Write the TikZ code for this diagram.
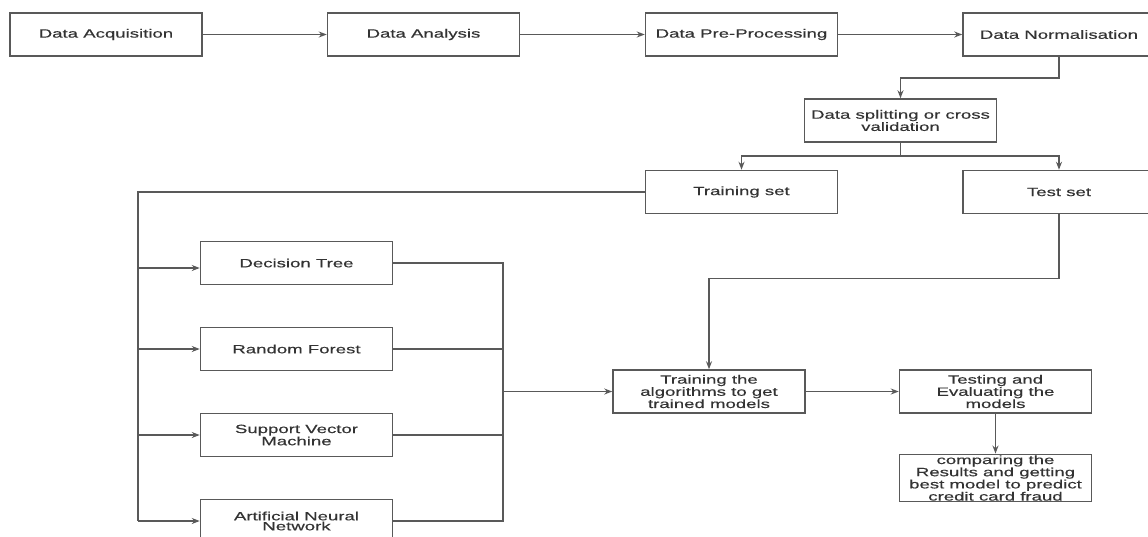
\documentclass[tikz,border=0pt]{standalone}
\usepackage{fontspec}
\setmainfont[FakeStretch=1.55, FakeBold=0.4]{Liberation Sans}
\usetikzlibrary{arrows.meta}

\begin{document}
\begin{tikzpicture}[x=1pt, y=-1pt, line width=1.5pt, draw=black!65, >={Stealth[length=8pt, width=6pt]},
  box/.style = {draw, minimum width=192pt, minimum height=43pt, inner xsep=3pt, inner ysep=1pt,
    align=center, text=black!80, font=\fontsize{12}{10}\selectfont}]
  \useasboundingbox (0,0) rectangle (1148,536);
  \clip (0,0) rectangle (1148,536);
  \node[box] (acq) at (106,34.5) {Data Acquisition};
  \node[box] (ana) at (423.5,34.5) {Data Analysis};
  \node[box] (pre) at (741.5,34.5) {Data Pre-Processing};
  \node[box] (norm) at (1059,34.5) {Data Normalisation};
  \node[box] (split) at (900.5,120.5) {Data splitting or cross\\validation};
  \node[box] (train) at (741.5,192) {Training set};
  \node[box] (test) at (1059,192) {Test set};
  \node[box] (dt) at (296.5,263) {Decision Tree};
  \node[box] (rf) at (296.5,349) {Random Forest};
  \node[box] (svm) at (296.5,435) {Support Vector\\Machine};
  \node[box] (ann) at (296.5,521) {Artificial Neural\\Network};
  \node[box] (algo) at (709,391.5) {Training the\\algorithms to get\\trained models};
  \node[box] (eval) at (995.5,391.5) {Testing and\\Evaluating the\\models};
  \node[box] (cmp) at (995.5,478) {comparing the\\Results and getting\\best model to predict\\credit card fraud};
  \coordinate (bus) at (138,192);
  \coordinate (merge) at (503,391.5);

  \draw[->] (acq) -- (ana);
  \draw[->] (ana) -- (pre);
  \draw[->] (pre) -- (norm);
  \draw[->] (norm.south) -- ++(0,21) -| (split.north);
  \draw (split.south) -- ++(0,13) coordinate (fork);
  \draw[->] (fork) -| (train.north);
  \draw[->] (fork) -| (test.north);
  \draw (train.west) -- (bus) -- (bus |- ann.west);
  \draw[->] (bus |- dt.west) ++(0,5) -- ([yshift=-5pt]dt.west);
  \foreach \m in {rf, svm, ann}
    \draw[->] (bus |- \m.west) -- (\m.west);
  \foreach \m in {dt, rf, svm, ann}
    \draw (\m.east) -| (merge);
  \draw[->] (merge) -- (algo);
  \draw[->] (test.south) -- ++(0,64) -| (algo.north);
  \draw[->] (algo) -- (eval);
  \draw[->] (eval) -- (cmp);
\end{tikzpicture}
\end{document}
